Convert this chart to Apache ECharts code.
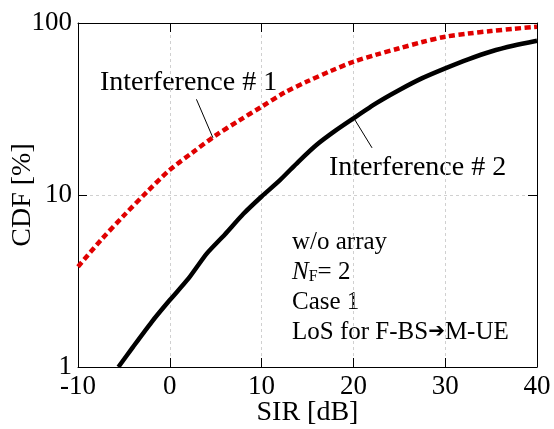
<!DOCTYPE html>
<html>
<head>
<meta charset="utf-8">
<script src="https://cdn.jsdelivr.net/npm/echarts@6/dist/echarts.min.js"></script>
<style>
  html, body { margin: 0; padding: 0; background: #fff; }
  #chart { width: 554px; height: 429px; }
</style>
</head>
<body>
<div id="chart"></div>
<script>
// SIR [dB] sample points and CDF [%]
var sir1 = [-10, -7.5, -5, -2.5, 0, 2.5, 5, 7.5, 10, 12.5, 15, 17.5, 20, 22.5, 25, 27.5, 30, 32.5, 35, 37.5, 40];
var cdf1 = [3.83, 5.47, 7.6, 10.4, 14.0, 17.7, 22.2, 27.0, 32.6, 39.4, 45.8, 52.5, 59.5, 65.5, 71.3, 77.5, 83.2, 86.8, 89.8, 92.6, 95.1];

var sir2 = [-5.6, -4, -2, 0, 2, 4, 6, 8, 10, 12, 14, 16, 18, 20, 22.5, 25, 27.5, 30, 32.5, 35, 37.5, 40];
var cdf2 = [1.0, 1.31, 1.82, 2.45, 3.25, 4.55, 5.9, 7.75, 9.8, 12.2, 15.6, 19.6, 23.6, 27.9, 34.2, 40.8, 47.8, 54.5, 61.5, 68.3, 74.0, 78.9];

var xTicks = [-10, 0, 10, 20, 30, 40];
var yTicks = [1, 10, 100];

// leader lines for the curve labels, in data units
var leader1 = [[2.9, 36.0], [4.7, 21.5]];
var leader2 = [[20.17, 27.3], [22.03, 18.8]];

var font = '"Liberation Serif", "DejaVu Serif", serif';

function pairs(xs, ys) {
  var out = [];
  for (var i = 0; i < xs.length; i++) out.push([xs[i], ys[i]]);
  return out;
}

function leaderLine(seg) {
  return {
    silent: true,
    symbol: ['none', 'none'],
    label: { show: false },
    lineStyle: { color: '#000', width: 1, type: 'solid' },
    data: [[{ coord: seg[0] }, { coord: seg[1] }]]
  };
}

var chart = echarts.init(document.getElementById('chart'));

var gridLine = { show: true, lineStyle: { color: '#d0d0d0', type: [3, 3], width: 1 } };
var boxLine = { show: true, onZero: false, lineStyle: { color: '#000', width: 1 } };
var ticks = { show: true, inside: true, length: 9, lineStyle: { color: '#000' } };

var option = {
  animation: false,
  backgroundColor: '#fff',
  textStyle: { fontFamily: font },
  grid: { left: 78, right: 17, top: 23, bottom: 62, containLabel: false, outerBoundsMode: 'none' },
  xAxis: [
    {
      type: 'value', min: xTicks[0], max: xTicks[xTicks.length - 1], interval: 10,
      name: 'SIR [dB]', nameLocation: 'middle', nameGap: 32, nameMoveOverlap: false,
      nameTextStyle: { fontFamily: font, fontSize: 28, color: '#000' },
      axisLine: boxLine,
      axisTick: ticks,
      axisLabel: { fontFamily: font, fontSize: 27, color: '#000', margin: 6 },
      splitLine: gridLine
    },
    {
      type: 'value', min: xTicks[0], max: xTicks[xTicks.length - 1], interval: 10, position: 'top',
      axisLine: boxLine,
      axisTick: ticks,
      axisLabel: { show: false },
      splitLine: { show: false }
    }
  ],
  yAxis: [
    {
      type: 'log', logBase: 10, min: yTicks[0], max: yTicks[yTicks.length - 1],
      name: 'CDF [%]', nameLocation: 'middle', nameGap: 41, nameMoveOverlap: false,
      nameTextStyle: { fontFamily: font, fontSize: 28, color: '#000' },
      axisLine: boxLine,
      axisTick: ticks,
      minorTick: { show: false },
      axisLabel: { fontFamily: font, fontSize: 27, color: '#000', margin: 6 },
      splitLine: gridLine
    },
    {
      type: 'log', logBase: 10, min: yTicks[0], max: yTicks[yTicks.length - 1], position: 'right',
      axisLine: boxLine,
      axisTick: ticks,
      axisLabel: { show: false },
      splitLine: { show: false }
    }
  ],
  series: [
    {
      name: 'Interference # 1', type: 'line', smooth: 0.3, showSymbol: false,
      data: pairs(sir1, cdf1),
      lineStyle: { color: '#e00000', width: 4.5, type: [6, 3.5] },
      markLine: leaderLine(leader1)
    },
    {
      name: 'Interference # 2', type: 'line', smooth: 0.2, showSymbol: false,
      data: pairs(sir2, cdf2),
      lineStyle: { color: '#000', width: 4.5 },
      markLine: leaderLine(leader2)
    }
  ],
  graphic: [
    { type: 'text', left: 100, top: 69, style: { text: 'Interference # 1', font: '28px ' + font, fill: '#000' } },
    { type: 'text', left: 329, top: 154, style: { text: 'Interference # 2', font: '28px ' + font, fill: '#000' } },
    {
      type: 'text', left: 292, top: 227,
      style: {
        text: 'w/o array\n{i|N}{s|F}= 2\nCase 1\nLoS for F-BS{a|\u2794}M-UE',
        font: '25px ' + font, fill: '#000', lineHeight: 30,
        rich: {
          i: { fontFamily: font, fontSize: 25, fontStyle: 'italic', lineHeight: 30 },
          s: { fontFamily: font, fontSize: 16, padding: [10, 0, 0, 0], lineHeight: 30 },
          a: { fontFamily: '"DejaVu Sans", sans-serif', fontSize: 20, lineHeight: 30 }
        }
      }
    }
  ]
};

chart.setOption(option);
</script>
</body>
</html>
